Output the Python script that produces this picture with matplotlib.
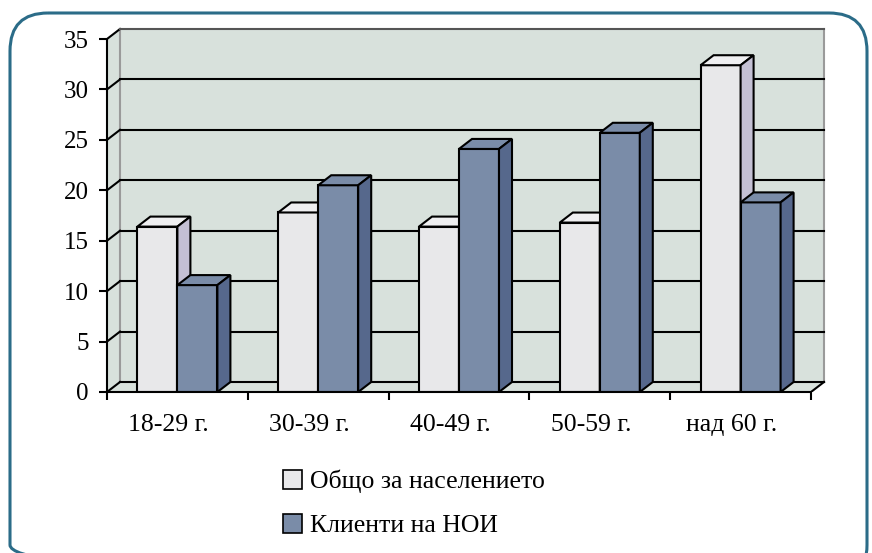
import numpy as np
import matplotlib.pyplot as plt
from matplotlib.patches import Polygon, Patch, FancyBboxPatch

plt.rcParams['font.family'] = ['Liberation Serif', 'DejaVu Serif']

# age groups and shares (%)
categories = ['18-29 г.', '30-39 г.', '40-49 г.', '50-59 г.', 'над 60 г.']
population = [16.4, 17.8, 16.4, 16.8, 32.4]
noi_clients = [10.6, 20.5, 24.1, 25.7, 18.8]
series_names = ['Общо за населението', 'Клиенти на НОИ']

W, H = 872, 553
fig = plt.figure(figsize=(W / 100, H / 100), dpi=100)

# rounded frame around the whole chart
bg = fig.add_axes([0, 0, 1, 1])
bg.set_xlim(0, W)
bg.set_ylim(H, 0)
bg.axis('off')
bg.add_patch(FancyBboxPatch((10, 13), 857, 570,
                            boxstyle='round,pad=0,rounding_size=38',
                            fill=False, ec='#2b6c88', lw=2.2))

# plot area in pixels: x axis 107..811, y 0 at 392, 35 at 39
x0, x1, y0, y35 = 107, 811, 392, 39
right, top = 840, 20
ax = fig.add_axes([x0 / W, 1 - y0 / H, (right - x0) / W, (y0 - top) / H])
px_x = 5 / (x1 - x0)
px_y = 35 / (y0 - y35)
ax.set_xlim(0, (right - x0) * px_x)
ax.set_ylim(0, (y0 - top) * px_y)
ax.patch.set_alpha(0)

dx, dy = 13 * px_x, 10 * px_y   # depth of the 3D effect
n = len(categories)
ymax = 35

wall = '#d8e1dc'
edge = 'black'
lw = 1.5

# walls and floor
ax.add_patch(Polygon([(dx, dy), (n + dx, dy), (n + dx, ymax + dy), (dx, ymax + dy)],
                     closed=True, fc=wall, ec='none', zorder=1))
ax.add_patch(Polygon([(0, 0), (dx, dy), (dx, ymax + dy), (0, ymax)],
                     closed=True, fc=wall, ec='none', zorder=1))
ax.add_patch(Polygon([(0, 0), (n, 0), (n + dx, dy), (dx, dy)],
                     closed=True, fc=wall, ec='none', zorder=1))
ax.plot([dx, dx], [dy, ymax + dy], color='#9a9a9a', lw=1.5, zorder=2)
ax.plot([n + dx, n + dx], [dy, ymax + dy], color='#9a9a9a', lw=1.5, zorder=2)

# gridlines on the back and left walls
for v in range(0, ymax + 1, 5):
    c = '#555555' if v == ymax else edge
    ax.plot([0, dx], [v, v + dy], color=edge, lw=lw, zorder=2)
    ax.plot([dx, n + dx], [v + dy, v + dy], color=c, lw=lw, zorder=2)
ax.plot([n, n + dx], [0, dy], color=edge, lw=lw, zorder=2)


def bar3d(x, w, h, front, side, topc, z):
    ax.add_patch(Polygon([(x, 0), (x + w, 0), (x + w, h), (x, h)], closed=True,
                         fc=front, ec=edge, lw=lw, joinstyle='miter', zorder=z))
    ax.add_patch(Polygon([(x, h), (x + w, h), (x + w + dx, h + dy), (x + dx, h + dy)],
                         closed=True, fc=topc, ec=edge, lw=lw, zorder=z))
    ax.add_patch(Polygon([(x + w, 0), (x + w + dx, dy), (x + w + dx, h + dy), (x + w, h)],
                         closed=True, fc=side, ec=edge, lw=lw, zorder=z))


bw = 40 * px_x
for i in range(n):
    c = i + 0.5
    bar3d(c - bw, bw, population[i], '#e8e8ea', '#c4c0d4', '#efeff1', 3 + 2 * i)
    bar3d(c, bw, noi_clients[i], '#7a8ca8', '#56688c', '#7a8ca8', 4 + 2 * i)

# axes lines and ticks
for s in ['top', 'right']:
    ax.spines[s].set_visible(False)
ax.spines['left'].set_bounds(0, ymax)
ax.spines['bottom'].set_bounds(0, n)
for s in ['left', 'bottom']:
    ax.spines[s].set_linewidth(lw)
    ax.spines[s].set_zorder(20)
ax.set_yticks(range(0, ymax + 1, 5))
ax.tick_params(axis='y', length=6, width=lw, labelsize=18, pad=7)
ax.set_xticks(np.arange(n + 1))
ax.set_xticklabels([])
# category labels sit a little left of the group centre
ax.set_xticks(np.arange(n) + 0.5 - 9 * px_x, minor=True)
ax.set_xticklabels(categories, minor=True)
ax.tick_params(axis='x', which='major', length=6, width=lw)
ax.tick_params(axis='x', which='minor', length=0, labelsize=18.5, pad=16)

handles = [Patch(fc='#e8e8ea', ec=edge, lw=1.2), Patch(fc='#7a8ca8', ec=edge, lw=1.2)]
fig.legend(handles, series_names, loc='upper left', bbox_to_anchor=(270 / W, 1 - 457 / H),
           frameon=False, fontsize=18.5, handlelength=0.75, handleheight=0.75,
           handletextpad=0.3, labelspacing=0.8, borderpad=0)

fig.savefig('out.png', dpi=100)
